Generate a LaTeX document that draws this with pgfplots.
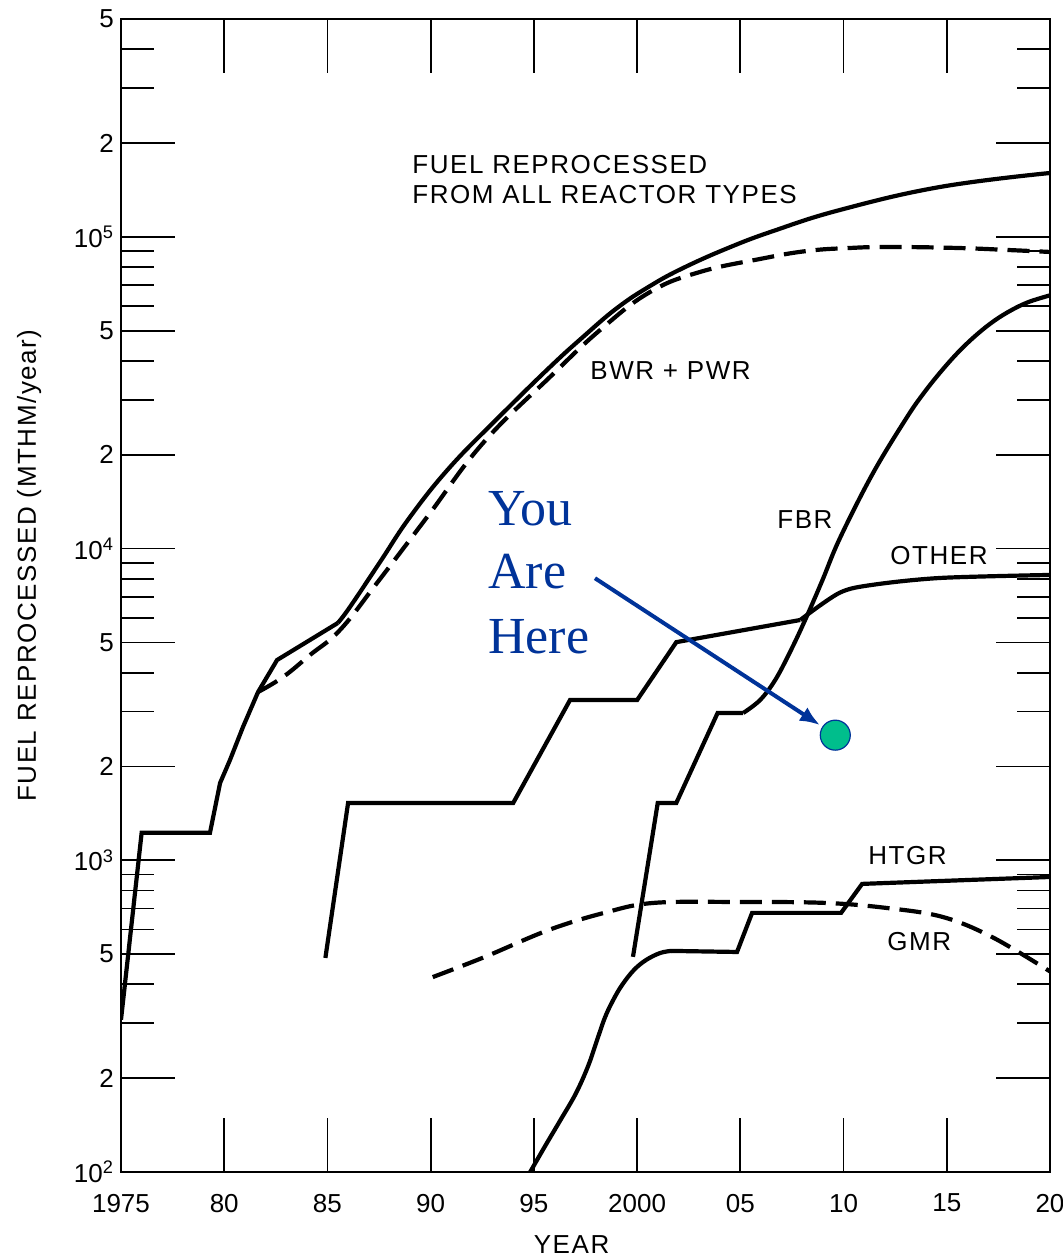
\documentclass[border=0pt]{standalone}
\usepackage{fontspec}
\setmainfont{Liberation Sans}
\newfontfamily\lblfont[LetterSpace=6]{Liberation Sans}
\newfontfamily\herefont{Liberation Serif}
\usepackage{pgfplots}
\pgfplotsset{compat=1.18}
\usetikzlibrary{arrows.meta}
\definecolor{hereblue}{RGB}{0,51,153}
\definecolor{heregreen}{RGB}{0,190,140}

\begin{document}
\begin{tikzpicture}
\path[use as bounding box] (-60.5pt,-43pt) rectangle (470.5pt,586pt);
\begin{axis}[
  at={(0,0)}, anchor=south west,
  scale only axis, width=464.5pt, height=576.5pt,
  ymode=log, xmin=1975, xmax=2020, ymin=100, ymax=500000,
  axis line style={line width=1.3pt},
  every tick/.style={black, line width=0.9pt},
  major tick length=27pt, minor tick length=16.5pt,
  xtick={1975,1980,...,2020},
  xticklabels={1975,80,85,90,95,2000,05,10,15,20},
  ytick={100,200,500,1000,2000,5000,10000,20000,50000,100000,200000,500000},
  yticklabels={10\textsuperscript{2},2,5,10\textsuperscript{3},2,5,10\textsuperscript{4},2,5,10\textsuperscript{5},2,5},
  minor ytick={300,400,600,700,800,900,3000,4000,6000,7000,8000,9000,30000,40000,60000,70000,80000,90000,300000,400000},
  tick label style={font=\fontsize{13}{15}\selectfont},
  xticklabel style={yshift=-7.5pt},
  xlabel={YEAR}, ylabel={FUEL REPROCESSED (MTHM/year)},
  label style={font=\lblfont\fontsize{13}{15}\selectfont},
  xlabel style={at={(axis description cs:0.485,-0.063)}, anchor=center},
  ylabel style={at={(axis description cs:-0.099,0.526)}, anchor=center},
  curve/.style={black, line width=2.1pt},
  dashcurve/.style={black, line width=2.1pt, dash pattern=on 11pt off 5pt},
]
% fuel reprocessed from all reactor types
\addplot[curve, sharp plot] coordinates {(1975.0,308) (1976.0,1225) (1979.31,1225) (1979.8,1770) (1980.28,2098) (1980.91,2678) (1981.64,3467) (1982.56,4390) (1985.5,5770)};
\addplot[curve, smooth, tension=0.7] coordinates {(1985.5,5770) (1986.09,6495) (1987.55,9060) (1989.0,12630) (1990.94,18270) (1993.36,26640) (1995.78,38240) (1997.38,47750) (1999.03,59150) (2000.63,69590) (2002.23,79470) (2004.41,92130) (2006.59,104400) (2009.83,122000) (2014.68,144600) (2020,160300)};
% BWR + PWR
\addplot[dashcurve, smooth, tension=0.7] coordinates {(1981.64,3467) (1982.85,3873) (1984.16,4559) (1985.61,5482) (1987.4,7757) (1989.83,12630) (1992.54,21820) (1995.78,35520) (1998.21,50280) (2000.63,66570) (2003.05,77180) (2005.96,84950) (2008.24,90120) (2010.32,92130) (2012.26,92820) (2015.5,92130) (2017.93,90780) (2020,89450)};
% FBR
\addplot[curve, sharp plot] coordinates {(1999.8,490) (2001.0,1528) (2001.9,1528) (2003.9,2969) (2005.14,2969)};
\addplot[curve, smooth, tension=0.6] coordinates {(2005.14,2969) (2005.96,3268) (2006.69,3789) (2007.41,4661) (2008.14,5902) (2008.96,7870) (2009.83,10820) (2011.43,17480) (2013.08,26440) (2013.9,31620) (2014.68,36730) (2015.5,42290) (2016.28,47470) (2017.1,52630) (2017.93,57210) (2018.9,61590) (2020,64920)};
% OTHER
\addplot[curve, sharp plot] coordinates {(1984.9,486) (1986.0,1528) (1994.0,1528) (1996.75,3266) (2000.0,3266) (2001.9,5010) (2007.9,5900)};
\addplot[curve, smooth, tension=0.5] coordinates {(2007.9,5900) (2009.8,7210) (2011.4,7650) (2014.7,8050) (2020,8230)};
% HTGR
\addplot[curve, smooth, tension=0.6] coordinates {(1994.82,100) (1995.54,121) (1996.32,148) (1997.04,179) (1997.63,219) (1998.06,265) (1998.45,314) (1998.84,356) (1999.27,398) (1999.85,445) (2000.44,479) (2001.11,504) (2001.65,512)};
\addplot[curve, sharp plot] coordinates {(2001.65,512) (2004.84,508) (2005.57,678) (2009.88,678) (2010.9,840) (2020,884)};
% GMR
\addplot[dashcurve, smooth, tension=0.6] coordinates {(1990.1,422) (1992.6,489) (1995.7,597) (1998.4,678) (2000.8,730) (2004.9,735) (2009.1,730) (2012.1,703) (2014.8,658) (2017.2,567) (2020,440)};

% curve labels
\begin{scope}[every node/.style={font=\lblfont\fontsize{13}{15}\selectfont, inner sep=0pt}]
\node[anchor=base west] at (rel axis cs:0.3132,0.8656) {FUEL REPROCESSED};
\node[anchor=base west] at (rel axis cs:0.3132,0.8396) {FROM ALL REACTOR TYPES};
\node[anchor=base west] at (rel axis cs:0.5048,0.6869) {BWR + PWR};
\node[anchor=base west] at (rel axis cs:0.7061,0.5577) {FBR};
\node[anchor=base west] at (rel axis cs:0.8278,0.5273) {OTHER};
\node[anchor=base west] at (rel axis cs:0.8041,0.2663) {HTGR};
\node[anchor=base west] at (rel axis cs:0.8245,0.1925) {GMR};
\end{scope}

% "you are here" marker
\begin{scope}[every node/.style={font=\herefont\fontsize{26}{32}\selectfont, text=hereblue, inner sep=0pt, anchor=base west}]
\node at (rel axis cs:0.3949,0.5610) {You};
\node at (rel axis cs:0.3949,0.5064) {Are};
\node at (rel axis cs:0.3949,0.4500) {Here};
\end{scope}
\draw[hereblue, line width=2pt, -{Latex[length=10pt,width=8pt]}] (rel axis cs:0.5102,0.5150) -- (rel axis cs:0.7524,0.3876);
\addplot[only marks, mark=*, mark size=7.5pt, mark options={fill=heregreen, draw=hereblue, line width=0.6pt}] coordinates {(2009.6,2520)};
\end{axis}
\end{tikzpicture}
\end{document}
